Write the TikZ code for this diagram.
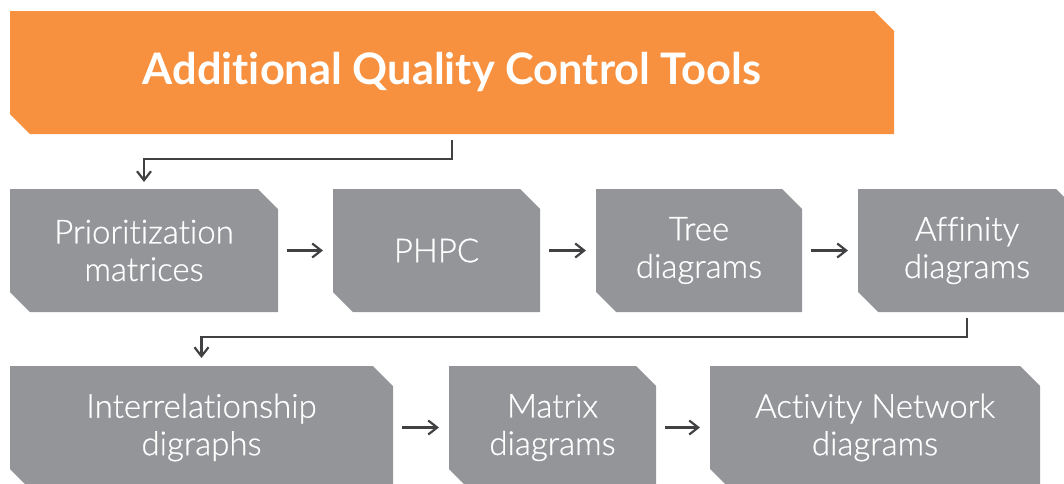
\documentclass[tikz,border=0pt]{standalone}
\usepackage{fontspec}
\setmainfont{Lato}[Ligatures=NoCommon]
\newfontfamily\lightfont{Lato Light}[Ligatures=NoCommon, FakeBold=0.7]
\usetikzlibrary{arrows.meta}
\definecolor{qorange}{HTML}{F79140}
\definecolor{qgray}{HTML}{939598}
\definecolor{qarrow}{HTML}{414042}
\tikzset{
  chamfer/.style={rectangle, inner sep=0pt, outer sep=0pt, text=white, align=center,
    path picture={\fill[#1] (path picture bounding box.north west)
      -- ([xshift=-20pt]path picture bounding box.north east)
      -- ([yshift=-20pt]path picture bounding box.north east)
      -- (path picture bounding box.south east)
      -- ([xshift=20pt]path picture bounding box.south west)
      -- ([yshift=20pt]path picture bounding box.south west) -- cycle;}},
  titlebox/.style={chamfer=qorange, minimum width=884pt, minimum height=123pt,
    font=\fontsize{43.4}{50}\selectfont\bfseries},
  toolbox/.style={chamfer=qgray, minimum height=123pt,
    font=\lightfont\fontsize{33}{37.5}\selectfont},
  conn/.style={draw=qarrow, line width=2.2pt,
    -{Straight Barb[length=9pt,width=14pt]}},
  flow/.style={conn, shorten <=9pt, shorten >=10pt},
}
\begin{document}
\begin{tikzpicture}[x=1pt,y=-1pt]
\useasboundingbox (0,0) rectangle (1064,483);
\clip (0,0) rectangle (1064,483);
\node[titlebox] (title) at (452,72.5) {Additional Quality Control Tools};
\node[toolbox, minimum width=268pt] (b1) at (144,250.5) {Prioritization\\matrices};
\node[toolbox, minimum width=207pt] (b2) at (436.5,250.5) {PHPC};
\node[toolbox, minimum width=206pt] (b3) at (699,250.5) {Tree\\diagrams};
\node[toolbox, minimum width=218pt] (b4) at (967,250.5) {Affinity\\diagrams};
\node[toolbox, minimum width=383pt] (b5) at (201.5,427.5) {Interrelationship\\digraphs};
\node[toolbox, minimum width=207pt] (b6) at (552.5,427.5) {Matrix\\diagrams};
\node[toolbox, minimum width=330pt] (b7) at (875,427.5) {Activity Network\\diagrams};
\draw[conn, shorten <=6pt, shorten >=7pt] (title.south) -- ++(0,25) -| (b1.north);
\draw[flow] (b1.east) -- (b2.west);
\draw[flow] (b2.east) -- (b3.west);
\draw[flow] (b3.east) -- (b4.west);
\draw[conn, shorten <=6pt, shorten >=8pt] (b4.south) -- ++(0,25) -| (b5.north);
\draw[flow] (b5.east) -- (b6.west);
\draw[flow] (b6.east) -- (b7.west);
\end{tikzpicture}
\end{document}
